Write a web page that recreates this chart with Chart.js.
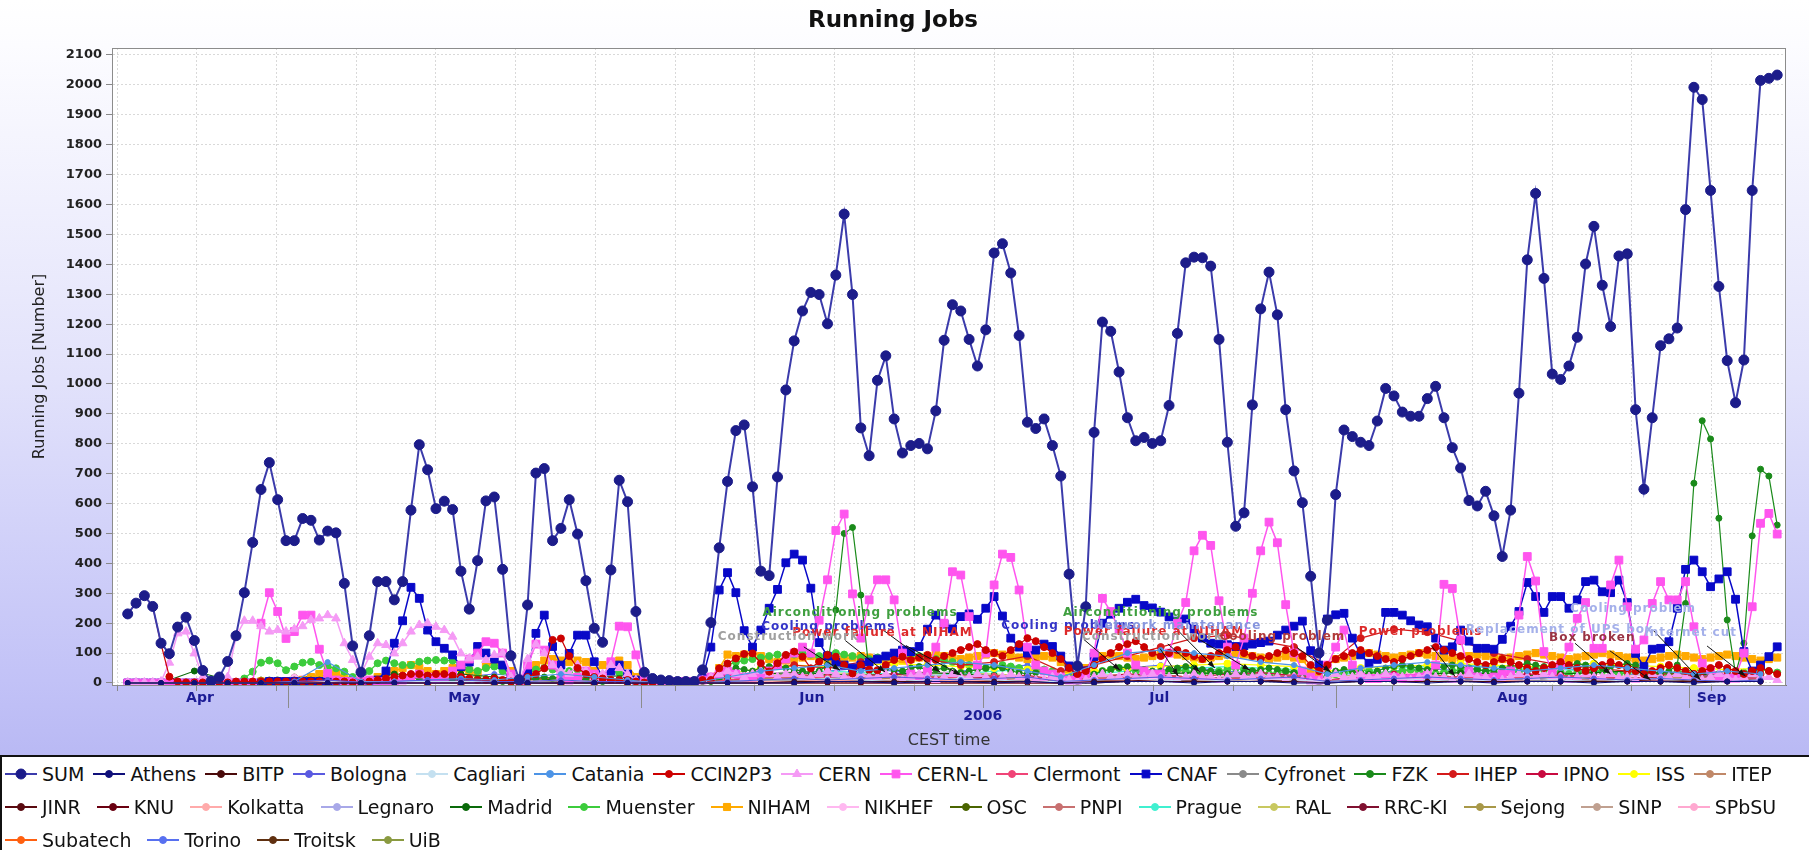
<!DOCTYPE html>
<html>
<head>
<meta charset="utf-8">
<script src="https://cdn.jsdelivr.net/npm/chart.js@4.4.1/dist/chart.umd.min.js"></script>
<style>
  body { margin: 0; width: 1809px; height: 850px; overflow: hidden; background: #fff; font-family: "DejaVu Sans", sans-serif; }
  #wrap { position: absolute; left: 0; top: 0; width: 1809px; height: 756px; }
  #legend { position: absolute; left: 0; top: 755px; width: 1809px; height: 95px; border-top: 2px solid #111; border-left: 2px solid #111; background: #fff; box-sizing: border-box; }
  .row { display: flex; align-items: center; height: 33px; padding-left: 3px; }
  .item { display: flex; align-items: center; font-size: 19px; color: #111; white-space: nowrap; }
  .item canvas { margin-right: 5px; }
</style>
</head>
<body>
<div id="wrap"><canvas id="chart" width="1809" height="756"></canvas></div>
<div id="legend"></div>
<script>
// sample times, in days since 1 Apr 2006 00:00 CEST
const firstSample = 15.94;
const sampleStep = 0.7314;
const minorStep = 4;
const xMin = 14.56, xMax = 161.53;

const monthNames = ["Apr", "May", "Jun", "Jul", "Aug", "Sep"];
const monthStarts = [0, 30, 61, 91, 122, 153];
const weekDays = [15, 22, 29, 36, 43, 50, 57, 64, 71, 78, 85, 92, 99, 106, 113, 120, 127, 134, 141, 148, 155];
const yTicks = [0, 100, 200, 300, 400, 500, 600, 700, 800, 900, 1000, 1100, 1200, 1300, 1400, 1500, 1600, 1700, 1800, 1900, 2000, 2100];

const sumJobs = [
  231,267,292,256,133,98,187,220,142,42,
  6,20,72,158,302,470,647,737,613,476,
  476,550,544,478,508,502,333,124,36,158,
  339,339,278,339,578,797,713,583,608,580,
  374,247,409,609,622,380,91,11,261,702,
  717,476,517,613,498,342,183,136,378,678,
  606,239,36,15,10,8,5,5,5,44,
  202,452,674,844,863,656,374,359,689,980,
  1144,1244,1306,1299,1201,1364,1568,1299,853,760,
  1012,1094,883,769,794,801,783,910,1146,1265,
  1244,1149,1060,1181,1438,1469,1371,1162,872,851,
  883,794,692,364,57,255,838,1207,1176,1040,
  887,810,821,801,810,928,1169,1405,1424,1422,
  1394,1149,805,524,569,930,1251,1374,1231,914,
  709,603,357,100,210,630,846,824,805,794,
  876,985,960,906,892,892,951,992,887,787,
  719,610,592,641,559,423,578,969,1415,1637,
  1353,1033,1015,1060,1156,1401,1527,1330,1192,1428,
  1435,914,648,887,1128,1151,1187,1583,1992,1951,
  1647,1326,1078,937,1080,1647,2015,2022,2033
];
const cnaf = [
  0,0,0,0,0,0,0,0,0,0,
  0,0,0,0,0,0,0,5,5,5,
  5,5,5,5,5,5,5,2,0,2,
  10,40,133,208,320,283,177,138,116,94,
  55,70,122,100,80,60,20,5,40,166,
  227,122,60,99,160,160,71,20,40,60,
  30,10,5,5,5,5,5,5,5,15,
  120,311,369,302,175,120,177,250,313,402,
  431,411,317,135,90,70,60,50,60,70,
  80,90,100,110,105,122,180,227,197,181,
  222,231,213,250,289,224,150,120,100,110,
  130,122,90,57,20,40,88,200,230,250,
  270,280,259,251,237,221,207,214,180,150,
  133,130,128,122,125,130,135,140,160,177,
  190,207,108,60,214,228,233,150,94,66,
  79,236,236,227,208,194,188,150,110,121,
  177,140,116,116,113,146,190,239,336,289,
  236,289,289,250,278,339,344,305,302,344,
  269,99,55,113,116,138,250,380,411,372,
  322,348,372,280,105,40,60,88,121
];
const cernL = [
  0,0,0,0,0,0,0,0,0,0,
  0,0,0,0,0,0,200,302,239,149,
  172,227,227,113,32,10,5,5,5,10,
  5,5,5,10,20,30,20,15,20,40,
  60,80,100,138,133,100,30,5,60,130,
  110,60,20,10,20,40,30,20,71,190,
  188,94,10,5,5,5,5,5,5,10,
  20,30,40,30,20,20,30,40,60,80,
  100,120,100,210,345,510,565,298,150,278,
  345,345,278,100,30,20,40,120,200,372,
  361,222,60,100,328,431,420,311,120,60,
  40,30,20,10,10,30,100,283,239,180,
  100,60,40,30,30,100,200,269,442,494,
  460,275,120,60,150,300,442,538,469,262,
  100,40,20,10,60,120,177,60,20,15,
  15,20,20,15,15,20,25,60,330,316,
  144,40,20,15,20,30,40,227,423,341,
  105,40,60,120,216,269,116,116,328,411,
  255,113,144,266,339,278,278,339,188,66,
  43,20,15,20,100,255,534,567,498
];
const cern = [
  2,2,2,2,5,68,166,172,99,20,
  5,5,20,155,208,208,190,172,177,172,
  180,190,211,216,227,216,133,77,30,88,
  133,127,99,133,172,194,200,188,177,155,
  99,82,88,77,94,100,20,5,80,130,
  100,60,40,30,60,40,20,30,60,50,
  30,10,5,5,5,5,5,5,5,10,
  20,30,40,30,20,30,40,30,20,30,
  30,20,20,30,40,30,20,20,30,20,
  20,30,20,10,20,30,20,10,20,30,
  20,20,30,20,10,20,30,20,20,10,
  10,20,20,10,5,10,20,30,20,20,
  30,20,20,30,20,20,10,20,30,20,
  20,10,20,30,20,20,30,20,20,10,
  20,10,5,5,20,30,20,20,30,20,
  20,30,20,20,10,20,30,20,20,10,
  20,30,20,20,10,10,20,30,20,20,
  30,20,20,10,20,30,20,20,30,20,
  20,10,20,30,20,20,30,20,20,10,
  20,30,20,10,20,30,20,20,10
];
const fzk = [
  0,0,0,0,0,0,0,0,0,0,
  0,0,0,0,0,0,5,10,10,5,
  5,5,10,10,10,5,5,0,0,5,
  10,10,10,10,15,15,10,10,15,15,
  10,10,15,15,10,5,0,0,10,15,
  20,15,20,20,15,10,10,5,10,15,
  10,5,0,0,0,0,0,0,0,5,
  5,10,40,50,45,40,50,55,60,50,
  45,40,35,40,60,244,500,520,294,40,
  40,50,45,40,50,55,40,45,50,40,
  35,40,45,50,55,50,40,35,30,35,
  40,30,20,10,5,10,30,40,45,50,
  55,50,45,40,40,45,50,55,50,45,
  40,35,30,30,35,40,45,50,45,40,
  35,30,10,5,30,40,45,40,35,30,
  40,50,55,60,55,50,45,50,55,60,
  55,50,45,40,45,50,55,60,65,60,
  55,50,55,60,65,60,55,50,55,60,
  65,60,40,30,35,40,60,266,668,877,
  816,551,211,30,133,492,715,692,528
];
const muenster = [
  0,0,0,0,0,0,0,0,0,0,
  0,0,0,0,15,38,68,75,66,43,
  55,68,71,60,55,49,38,20,10,40,
  66,75,66,60,60,71,75,77,75,75,
  60,45,40,50,55,40,15,5,30,45,
  50,45,35,40,45,35,25,20,40,35,
  20,10,5,0,0,0,0,0,0,10,
  10,20,60,70,75,80,85,90,95,90,
  95,100,95,90,95,100,95,90,85,80,
  85,90,95,100,95,90,85,80,75,70,
  65,60,55,50,55,60,55,50,45,40,
  45,40,35,20,10,20,35,40,45,50,
  45,40,35,30,35,40,45,40,35,30,
  35,40,45,50,45,40,35,30,35,40,
  35,30,15,5,20,30,35,40,45,40,
  35,30,35,40,45,40,35,30,35,40,
  45,50,45,40,35,30,35,40,45,50,
  45,40,35,30,35,40,45,40,35,30,
  35,40,35,30,25,30,35,40,45,40,
  35,30,25,30,35,40,45,40,35
];
const ccin2p3 = [
  231,267,292,256,130,21,5,2,2,2,
  2,2,2,5,5,5,5,5,5,5,
  5,5,5,5,5,5,5,2,2,5,
  10,15,20,25,30,30,25,30,30,25,
  20,15,10,10,15,10,5,2,20,30,
  49,144,149,90,50,30,20,15,10,10,
  10,5,2,2,2,2,2,2,2,10,
  10,49,65,82,97,99,66,38,66,94,
  105,88,49,71,94,88,60,32,60,45,
  43,60,77,88,77,85,94,77,90,100,
  110,120,130,110,100,90,110,130,150,140,
  120,100,80,50,30,40,60,80,100,120,
  130,140,120,100,90,100,110,100,90,80,
  90,100,110,120,100,90,80,90,100,110,
  100,90,60,40,60,80,90,100,110,100,
  90,80,70,80,90,100,110,120,110,100,
  90,80,70,60,70,80,70,60,50,40,
  50,60,70,60,50,40,50,60,70,60,
  50,40,30,40,50,60,50,40,30,40,
  50,60,50,40,30,40,50,40,30
];
const niham = [
  0,0,0,0,0,0,0,0,0,0,
  0,0,0,0,0,0,5,5,5,5,
  5,10,20,30,40,30,20,10,5,10,
  20,30,40,50,60,50,40,30,40,50,
  50,40,30,60,70,60,40,5,30,60,
  75,80,75,70,75,70,40,60,70,75,
  60,20,5,2,2,2,2,2,2,10,
  20,50,95,90,95,100,90,80,70,75,
  80,85,90,80,75,70,80,85,90,85,
  80,75,70,75,80,85,90,95,90,85,
  80,85,90,95,100,95,90,85,80,85,
  90,85,70,40,20,50,80,90,95,90,
  85,80,85,90,95,100,95,90,85,80,
  85,90,95,100,95,90,85,80,85,90,
  85,80,40,20,60,80,85,90,95,100,
  95,90,85,90,95,100,95,90,85,80,
  85,90,95,90,85,80,85,90,95,100,
  95,90,85,80,85,90,95,100,95,90,
  85,80,75,80,85,90,95,90,85,80,
  85,90,95,90,85,80,75,80,85
];

// small sites, one value per 4 samples
const athens = [0,0,0,0,0,0,0,0,0,0, 0,0,0,0,0,0,0,0,0,0, 0,5,5,0,5,5,0,5,0,0, 5,5,0,5,5,0,0,5,5,0, 5,0,5,5,0,5,5,0,5,5];
const bitp = [0,0,0,0,0,0,0,0,0,0, 0,0,0,0,0,0,0,0,0,0, 5,5,5,5,5,5,5,5,0,5, 5,5,5,5,5,5,0,5,5,5, 5,5,5,5,5,5,5,5,5,5];
const bologna = [0,0,0,0,0,5,10,2,5,10, 10,5,5,10,5,5,0,0,5,10, 15,10,15,20,15,10,15,20,5,10, 15,20,15,10,15,20,5,10,15,20, 15,10,15,20,15,10,15,10,5,10];
const cagliari = [0,0,0,0,0,0,5,2,5,5, 5,5,5,10,5,5,0,0,5,10, 10,15,10,5,10,15,10,5,5,10, 15,10,5,10,15,10,5,10,15,10, 5,10,15,10,5,10,15,10,5,10];
const catania = [0,0,0,0,0,5,70,5,5,10, 15,10,20,30,20,10,0,0,20,40, 50,60,40,50,60,70,60,40,20,60, 100,110,100,90,70,60,30,50,60,70, 60,50,40,50,60,50,40,30,40,30];
const clermont = [0,0,0,0,0,0,0,0,0,0, 0,5,5,10,5,0,0,0,10,20, 15,20,25,20,15,20,25,20,10,15, 20,25,20,15,20,25,10,15,20,25, 20,15,20,25,20,15,10,15,20,15];
const cyfronet = [0,0,0,0,0,0,0,0,0,0, 0,0,0,5,5,0,0,0,5,10, 10,15,10,5,10,15,10,5,5,10, 15,10,15,20,15,10,5,10,15,10, 10,15,10,5,10,15,10,5,10,5];
const ihep = [0,0,0,0,0,0,0,0,0,0, 0,0,0,0,0,0,0,0,20,40, 60,50,70,90,80,60,70,90,40,60, 90,120,150,160,140,120,60,150,180,170, 140,100,80,60,50,40,30,30,40,30];
const ipno = [0,0,0,0,0,5,10,2,0,5, 10,5,10,20,15,10,0,0,10,20, 30,20,25,30,20,15,20,25,10,20, 30,25,20,30,35,25,10,20,30,25, 20,25,30,25,20,15,20,25,20,15];
const iss = [0,0,0,0,0,0,0,0,0,0, 5,10,10,20,10,5,0,0,30,50, 60,55,60,65,60,55,50,45,30,40, 50,55,60,65,60,55,40,50,55,60, 65,60,55,60,65,60,55,50,45,50];
const itep = [0,0,0,0,0,0,5,2,5,5, 10,5,5,10,5,5,0,0,10,15, 20,25,20,15,20,25,20,15,5,15, 20,25,20,15,20,25,5,15,20,25, 20,15,20,25,20,15,20,15,10,15];
const jinr = [0,0,0,0,0,0,0,0,0,0, 0,0,0,0,0,0,0,0,5,10, 10,15,10,5,10,15,10,5,5,10, 10,5,10,15,10,5,5,10,15,10, 5,10,15,10,5,10,5,10,5,5];
const knu = [0,0,0,0,0,0,0,0,0,0, 0,0,0,0,0,0,0,0,0,0, 0,0,0,0,0,0,0,0,0,0, 5,5,5,5,5,5,5,5,5,5, 5,5,5,5,5,5,5,5,5,5];
const kolkatta = [0,0,0,0,0,0,0,0,0,0, 0,0,0,0,0,0,0,0,0,5, 5,10,5,10,5,10,5,10,5,5, 10,5,10,15,10,5,5,10,15,10, 5,10,5,10,5,10,5,10,5,10];
const legnaro = [0,0,0,0,5,10,15,2,5,10, 15,10,5,10,15,10,0,0,10,20, 25,20,15,20,25,20,15,20,10,15, 20,25,20,15,20,25,10,15,20,25, 20,15,20,25,20,15,20,25,20,15];
const madrid = [0,0,40,10,5,10,15,5,30,25, 30,20,15,10,20,25,0,0,20,30, 35,30,25,30,35,30,25,20,10,20, 25,30,35,30,25,20,10,20,25,30, 35,30,25,30,35,40,35,30,25,20];
const nikhef = [0,0,0,0,5,20,40,5,10,20, 30,20,10,20,30,20,0,0,20,30, 40,30,20,30,40,30,20,30,10,20, 30,40,30,20,30,40,10,20,30,40, 30,20,30,40,30,20,30,40,30,20];
const osc = [0,0,0,0,10,20,25,5,15,20, 15,10,5,10,15,10,0,0,10,15, 20,25,20,15,20,25,20,15,5,15, 20,25,20,15,20,25,10,15,20,25, 20,15,20,25,20,15,20,25,20,15];
const pnpi = [0,0,0,0,0,0,0,0,0,0, 0,0,0,5,5,0,0,0,5,10, 10,5,10,15,10,5,10,15,5,10, 15,10,5,10,15,10,5,10,15,10, 5,10,15,10,5,10,15,10,5,10];
const prague = [0,0,0,0,0,0,0,0,0,0, 0,0,0,5,5,0,0,0,10,20, 30,40,35,30,25,30,40,45,20,30, 40,45,50,55,50,45,20,40,50,55, 60,55,50,45,40,35,30,25,20,25];
const ral = [0,0,0,0,0,0,5,2,5,5, 5,10,10,15,10,5,0,0,15,25, 30,35,30,25,30,35,30,25,15,25, 30,35,40,35,30,25,15,30,35,40, 35,30,25,30,35,40,35,30,25,30];
const rrcki = [0,0,0,0,0,0,0,0,0,0, 0,0,0,0,0,0,0,0,0,0, 0,0,0,0,0,0,0,0,0,5, 5,5,5,5,5,5,5,5,10,10, 10,10,10,10,10,10,10,10,10,10];
const sejong = [0,0,0,0,0,0,0,0,0,0, 0,0,0,5,5,0,0,0,5,10, 10,15,10,5,10,15,10,5,5,10, 15,10,5,10,15,10,5,10,15,10, 5,10,15,10,5,10,15,10,5,10];
const sinp = [0,0,0,0,0,0,0,0,0,0, 0,0,0,0,5,5,0,0,5,5, 5,10,5,5,10,5,5,10,5,5, 10,5,5,10,5,5,5,10,5,5, 10,5,5,10,5,5,10,5,5,10];
const spbsu = [0,0,0,0,0,0,5,2,5,5, 10,5,5,10,5,5,0,0,10,20, 25,30,25,20,25,30,25,20,10,20, 30,35,30,25,30,35,10,25,30,35, 30,25,30,35,30,25,30,35,30,25];
const subatech = [0,0,0,0,0,0,0,0,0,0, 0,0,0,5,10,5,0,0,10,20, 25,20,15,20,25,20,15,20,5,15, 20,25,20,15,20,25,10,15,20,25, 20,15,20,25,20,15,20,25,20,15];
const torino = [0,0,0,0,0,5,10,2,5,10, 20,30,20,10,5,5,0,0,10,20, 30,40,50,40,30,40,50,60,20,40, 50,60,50,40,30,40,20,30,40,50, 40,30,40,50,40,30,20,30,20,10];
const troitsk = [0,0,0,0,0,0,0,0,0,0, 0,0,0,0,0,0,0,0,0,5, 5,5,5,5,5,5,5,5,5,5, 5,5,5,5,5,5,5,5,5,5, 5,5,5,5,5,5,5,5,5,5];
const uib = [0,0,0,0,0,0,0,0,0,0, 0,0,0,5,5,5,0,0,5,10, 15,10,15,20,15,10,15,20,5,10, 15,20,15,10,15,20,5,10,15,20, 15,10,15,20,15,10,15,20,15,10];

// event notes: text, colour, text centre and arrow tip (sample number, jobs)
const noteText = ["Airconditioning problems", "Cooling problems", "Power failure at NIHAM", "Construction work",
  "Airconditioning problems", "Cooling problems", "Power failure at NIHAM", "Construction work",
  "Network maintenance", "Cooling problem", "Power problems", "Replacement of UPS box", "Box broken",
  "Cooling problem", "Internet cut"];
const noteColor = ["#3f9f3f", "#3535c8", "#dd2a2a", "#a0a0a0", "#3f9f3f", "#3535c8", "#dd2a2a", "#a0a0a0",
  "#8796de", "#b23a3a", "#dd2a2a", "#a4b0ea", "#9a3344", "#a4b0ea", "#a4b0ea"];
const noteSample = [88.9, 85.1, 91.6, 80.3, 125, 113.9, 124.2, 124, 127, 139.6, 156.2, 172.9, 176.8, 181.7, 188.6];
const noteValue = [234, 187, 167, 154, 234, 190, 171, 154, 190, 154, 171, 177, 150, 247, 167];
const tipSample = [98.5, 91.9, 101, 86.5, 131.5, 120.1, 129.7, 127.1, 135.7, 145.4, 160.3, 179, 183.8, 189.8, 195.2];
const tipValue = [37, 37, 27, 43, 50, 43, 37, 23, 43, 37, 23, 30, 10, 10, 23];

// name, values, colour, marker, marker radius
const sites = [
  ["SUM", sumJobs, "#1c1c8a", "circle", 5],
  ["Athens", athens, "#10107a", "circle", 2.5],
  ["BITP", bitp, "#4a0a0a", "circle", 2.5],
  ["Bologna", bologna, "#5a5ae0", "circle", 2.5],
  ["Cagliari", cagliari, "#c4e0f0", "circle", 2.5],
  ["Catania", catania, "#4d94e6", "circle", 2.5],
  ["CCIN2P3", ccin2p3, "#cc0000", "circle", 3.5],
  ["CERN", cern, "#f59af5", "triangle", 5],
  ["CERN-L", cernL, "#ff55ee", "rect", 5.5],
  ["Clermont", clermont, "#f04477", "circle", 2.5],
  ["CNAF", cnaf, "#0808c8", "rect", 5.5],
  ["Cyfronet", cyfronet, "#8a8a8a", "circle", 2.5],
  ["FZK", fzk, "#1a8a1a", "circle", 3],
  ["IHEP", ihep, "#d41a1a", "circle", 3.5],
  ["IPNO", ipno, "#c80a40", "circle", 3],
  ["ISS", iss, "#ffff00", "circle", 3.5],
  ["ITEP", itep, "#c08868", "circle", 2.5],
  ["JINR", jinr, "#5a0a10", "circle", 2.5],
  ["KNU", knu, "#6a0010", "circle", 2.5],
  ["Kolkatta", kolkatta, "#ffaaaa", "circle", 2.5],
  ["Legnaro", legnaro, "#a8a8e8", "circle", 2.5],
  ["Madrid", madrid, "#0a6a0a", "circle", 3],
  ["Muenster", muenster, "#3ccc3c", "circle", 3.5],
  ["NIHAM", niham, "#ffaa00", "rect", 5],
  ["NIKHEF", nikhef, "#ffb8f0", "circle", 3],
  ["OSC", osc, "#4a6400", "circle", 3],
  ["PNPI", pnpi, "#c87070", "circle", 2.5],
  ["Prague", prague, "#40f0d0", "circle", 3],
  ["RAL", ral, "#c8c860", "circle", 3],
  ["RRC-KI", rrcki, "#801030", "circle", 2.5],
  ["Sejong", sejong, "#a89848", "circle", 2.5],
  ["SINP", sinp, "#c0a090", "circle", 2.5],
  ["SPbSU", spbsu, "#ffa8d0", "circle", 3],
  ["Subatech", subatech, "#ff6010", "circle", 3],
  ["Torino", torino, "#5870f0", "circle", 2.5],
  ["Troitsk", troitsk, "#603010", "circle", 2.5],
  ["UiB", uib, "#8a9a40", "circle", 2.5]
];
const legendRows = [17, 16, 4];
const legendGaps = [9, 16, 16];

function sampleDay(n) {
  return firstSample + (n - 1) * sampleStep;
}

const datasets = sites.map(([name, values, color, marker, radius]) => {
  const step = values.length === sumJobs.length ? 1 : minorStep;
  return {
    label: name,
    data: values.map((v, i) => ({ x: firstSample + i * step * sampleStep, y: v })),
    borderColor: name === "SUM" ? "#3b3bab" : color,
    backgroundColor: color,
    pointBackgroundColor: color,
    pointBorderColor: color,
    pointStyle: marker,
    pointRadius: radius,
    pointBorderWidth: 1,
    borderWidth: name === "SUM" ? 2 : (radius >= 5 ? 1.5 : 1.2),
    tension: 0,
    fill: false
  };
});

const backdrop = {
  id: "backdrop",
  beforeDraw(chart) {
    const { ctx, chartArea: a, width, height } = chart;
    const g = ctx.createLinearGradient(0, 0, 0, height);
    g.addColorStop(0, "#ffffff");
    g.addColorStop(0.06, "#fcfcff");
    g.addColorStop(0.5, "#e2e2fb");
    g.addColorStop(0.9, "#c2c2f7");
    g.addColorStop(1, "#b9b9f4");
    ctx.save();
    ctx.fillStyle = g;
    ctx.fillRect(0, 0, width, height);
    ctx.fillStyle = "#ffffff";
    ctx.fillRect(a.left, a.top, a.right - a.left, a.bottom - a.top);
    ctx.restore();
  }
};

const decor = {
  id: "decor",
  afterDatasetsDraw(chart) {
    const { ctx, chartArea: a, scales: { x, y } } = chart;
    ctx.save();
    ctx.beginPath();
    ctx.rect(a.left, a.top, a.right - a.left, a.bottom - a.top);
    ctx.clip();
    // arrows first, labels on top
    ctx.strokeStyle = "#111";
    ctx.fillStyle = "#111";
    ctx.lineWidth = 1;
    noteText.forEach((t, i) => {
      const tx = x.getPixelForValue(sampleDay(noteSample[i]));
      const ty = y.getPixelForValue(noteValue[i]);
      const px = x.getPixelForValue(sampleDay(tipSample[i]));
      const py = y.getPixelForValue(tipValue[i]);
      const sx = tx + (px - tx) * 0.3, sy = ty + (py - ty) * 0.3;
      const ang = Math.atan2(py - sy, px - sx);
      ctx.beginPath();
      ctx.moveTo(sx, sy);
      ctx.lineTo(px, py);
      ctx.stroke();
      ctx.beginPath();
      ctx.moveTo(px, py);
      ctx.lineTo(px - 8 * Math.cos(ang - 0.35), py - 8 * Math.sin(ang - 0.35));
      ctx.lineTo(px - 8 * Math.cos(ang + 0.35), py - 8 * Math.sin(ang + 0.35));
      ctx.closePath();
      ctx.fill();
    });
    ctx.font = 'bold 12px "DejaVu Sans"';
    ctx.letterSpacing = "1px";
    ctx.textAlign = "center";
    ctx.textBaseline = "middle";
    noteText.forEach((t, i) => {
      ctx.fillStyle = noteColor[i];
      ctx.fillText(t, x.getPixelForValue(sampleDay(noteSample[i])), y.getPixelForValue(noteValue[i]));
    });
    ctx.restore();
  },
  afterDraw(chart) {
    const { ctx, chartArea: a, scales: { x } } = chart;
    ctx.save();
    ctx.strokeStyle = "#8c8c8c";
    ctx.lineWidth = 1;
    ctx.strokeRect(a.left + 0.5, a.top + 0.5, a.right - a.left - 1, a.bottom - a.top);
    ctx.font = 'bold 14px "DejaVu Sans"';
    ctx.fillStyle = "#1c1c96";
    ctx.textAlign = "center";
    ctx.textBaseline = "middle";
    monthStarts.forEach((d, i) => {
      const end = i + 1 < monthStarts.length ? monthStarts[i + 1] : 184;
      const lo = Math.max(d, xMin), hi = Math.min(end, xMax);
      if (hi <= lo) return;
      if (d > xMin) {
        const sx = Math.round(x.getPixelForValue(d)) + 0.5;
        ctx.beginPath();
        ctx.moveTo(sx, a.bottom);
        ctx.lineTo(sx, a.bottom + 23);
        ctx.stroke();
      }
      let mid = (lo + hi) / 2;
      if (end > xMax) mid = Math.min(mid, d + 2);
      ctx.fillText(monthNames[i], x.getPixelForValue(mid), a.bottom + 13);
    });
    ctx.fillText("2006", x.getPixelForValue(monthStarts[3]), a.bottom + 31);
    ctx.restore();
  }
};

const chart = new Chart(document.getElementById("chart").getContext("2d"), {
  type: "line",
  data: { datasets: datasets },
  plugins: [backdrop, decor],
  options: {
    responsive: false,
    animation: false,
    events: [],
    layout: { padding: { left: 0, right: 23, top: 0, bottom: 0 } },
    plugins: {
      legend: { display: false },
      tooltip: { enabled: false },
      title: {
        display: true,
        text: "Running Jobs",
        color: "#111",
        font: { family: "DejaVu Sans", size: 23, weight: "bold" },
        padding: { top: 7, bottom: 13.4 }
      }
    },
    scales: {
      x: {
        type: "linear",
        min: xMin,
        max: xMax,
        afterBuildTicks: (s) => { s.ticks = weekDays.map((v) => ({ value: v })); },
        afterFit: (s) => { s.height = 71; },
        ticks: { display: false },
        grid: { color: "#d9d9d9", tickLength: 6, tickColor: "#888" },
        border: { color: "#777", dash: [2, 2] },
        title: {
          display: true,
          text: "CEST time",
          color: "#333",
          font: { family: "DejaVu Sans", size: 16 },
          padding: { top: 0, bottom: 6 }
        }
      },
      y: {
        min: -6.7,
        max: 2123.4,
        afterBuildTicks: (s) => { s.ticks = yTicks.map((v) => ({ value: v })); },
        afterFit: (s) => { s.width = 112; },
        ticks: {
          autoSkip: false,
          padding: 4,
          color: "#222",
          font: { family: "DejaVu Sans", size: 13, weight: "bold" },
          callback: (v) => String(v)
        },
        grid: { color: "#d9d9d9", tickLength: 6, tickColor: "#888" },
        border: { color: "#888", dash: [2, 2] },
        title: {
          display: true,
          text: "Running Jobs [Number]",
          color: "#222",
          font: { family: "DejaVu Sans", size: 16 },
          padding: { top: 30, bottom: 0 }
        }
      }
    }
  }
});

// legend below the canvas: a short line with the series marker, then the name
const legendBox = document.getElementById("legend");
let pos = 0;
legendRows.forEach((count, r) => {
  const row = document.createElement("div");
  row.className = "row";
  chart.data.datasets.slice(pos, pos + count).forEach((ds) => {
    const item = document.createElement("div");
    item.className = "item";
    item.style.marginRight = legendGaps[r] + "px";
    const sym = document.createElement("canvas");
    sym.width = 32;
    sym.height = 16;
    const g = sym.getContext("2d");
    g.strokeStyle = ds.borderColor;
    g.lineWidth = 2;
    g.beginPath();
    g.moveTo(0, 8);
    g.lineTo(32, 8);
    g.stroke();
    g.fillStyle = ds.pointBackgroundColor;
    g.strokeStyle = ds.pointBorderColor;
    g.lineWidth = 1;
    Chart.helpers.drawPoint(g, { pointStyle: ds.pointStyle, radius: Math.max(ds.pointRadius, 3.5), rotation: 0, borderWidth: 1 }, 16, 8);
    const label = document.createElement("span");
    label.textContent = ds.label;
    item.appendChild(sym);
    item.appendChild(label);
    row.appendChild(item);
  });
  legendBox.appendChild(row);
  pos += count;
});
</script>
</body>
</html>
